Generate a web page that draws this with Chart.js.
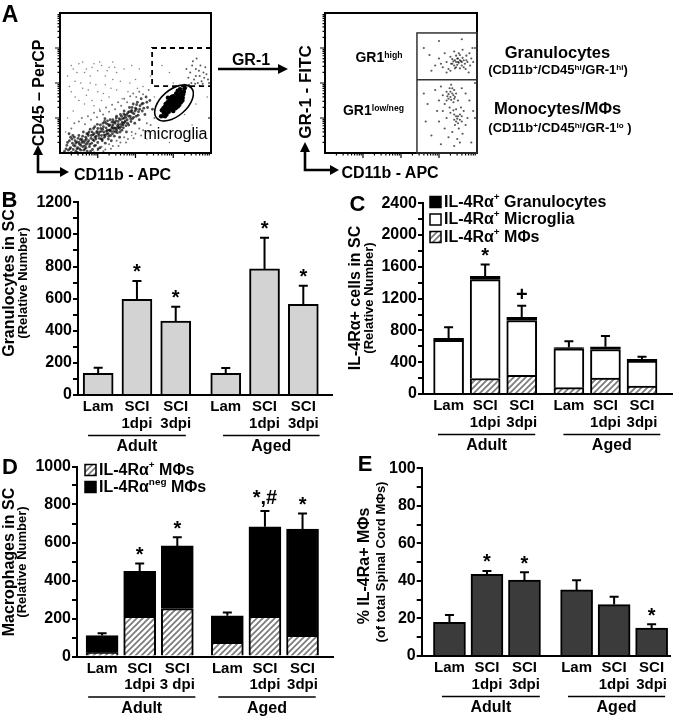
<!DOCTYPE html>
<html><head><meta charset="utf-8">
<script src="https://cdn.jsdelivr.net/npm/chart.js@4/dist/chart.umd.min.js"></script>
<style>
html,body{margin:0;padding:0;background:#fff;}
#fig{position:relative;width:673px;height:720px;overflow:hidden;font-family:'Liberation Sans',Arial,sans-serif;color:#000;}
canvas{position:absolute;}
.t{position:absolute;white-space:nowrap;font-weight:bold;line-height:1;transform:translate(-50%,-50%);}
.v{transform:translate(-50%,-50%) rotate(-90deg);}
.n{font-weight:normal;}
sup{font-size:62%;vertical-align:0;position:relative;top:-0.5em;}
</style></head><body><div id="fig">
<canvas id="sA1" width="170" height="155" style="left:50px;top:8px"></canvas>
<canvas id="sA2" width="172" height="155" style="left:315px;top:8px"></canvas>
<canvas id="cB" width="340" height="270" style="left:0;top:185px"></canvas>
<canvas id="cC" width="333" height="270" style="left:340px;top:185px"></canvas>
<canvas id="cD" width="340" height="265" style="left:0;top:455px"></canvas>
<canvas id="cE" width="333" height="265" style="left:340px;top:455px"></canvas>
<svg style="position:absolute;left:0;top:0" width="673" height="190">
 <g stroke="#000" stroke-width="2.6" fill="none">
  <polyline points="38,154 38,172 61,172"/>
  <line x1="218" y1="69" x2="279" y2="69"/>
  <polyline points="305,151 305,170 331,170"/>
 </g>
 <g fill="#000">
  <polygon points="38,145 33,155 43,155"/>
  <polygon points="69,172 60,167 60,177"/>
  <polygon points="288,69 278,64 278,74"/>
  <polygon points="305,142 300,152 310,152"/>
  <polygon points="339,170 330,165 330,175"/>
 </g>
</svg>
<div class="t" style="left:10px;top:13.5px;font-size:23px">A</div>
<div class="t v" style="left:39px;top:93px;font-size:16px">CD45 – PerCP</div>
<div class="t" style="left:122.5px;top:175px;font-size:16px">CD11b - APC</div>
<div class="t n" style="left:175.5px;top:134px;font-size:16px">microglia</div>
<div class="t" style="left:251px;top:60px;font-size:16px">GR-1</div>
<div class="t v" style="left:305px;top:92px;font-size:17px">GR-1 - FITC</div>
<div class="t" style="left:390px;top:173px;font-size:16px">CD11b - APC</div>
<div class="t" style="left:379px;top:57px;font-size:14px">GR1<sup>high</sup></div>
<div class="t" style="left:373.5px;top:110px;font-size:14px">GR1<sup>low/neg</sup></div>
<div class="t" style="left:557.5px;top:52px;font-size:16.5px">Granulocytes</div>
<div class="t" style="left:558px;top:70px;font-size:13px">(CD11b<sup>+</sup>/CD45<sup>hi</sup>/GR-1<sup>hi</sup>)</div>
<div class="t" style="left:557.5px;top:108px;font-size:16.5px">Monocytes/MΦs</div>
<div class="t" style="left:560px;top:128px;font-size:13px">(CD11b<sup>+</sup>/CD45<sup>hi</sup>/GR-1<sup>lo</sup> )</div>

<div class="t" style="left:9.5px;top:200px;font-size:22px">B</div>
<div class="t" style="left:357.5px;top:203.5px;font-size:22px">C</div>
<div class="t" style="left:10px;top:466.5px;font-size:22px">D</div>
<div class="t" style="left:365px;top:463.5px;font-size:22px">E</div>

<div class="t v" style="left:9px;top:283px;font-size:16px">Granulocytes in SC</div>
<div class="t v" style="left:22px;top:283px;font-size:13px">(Relative Number)</div>
<div class="t v" style="left:355px;top:298px;font-size:16px">IL-4Rα+ cells in SC</div>
<div class="t v" style="left:368px;top:298px;font-size:13px">(Relative Number)</div>
<div class="t v" style="left:9px;top:562px;font-size:16px">Macrophages in SC</div>
<div class="t v" style="left:21px;top:562px;font-size:13px">(Relative Number)</div>
<div class="t v" style="left:364px;top:566px;font-size:16px">% IL-4Ra+ MΦs</div>
<div class="t v" style="left:380px;top:562px;font-size:13px">(of total Spinal Cord MΦs)</div>
</div>
<script>
// ================= DATA =================
const categories = ['Lam', 'SCI 1dpi', 'SCI 3dpi', 'Lam', 'SCI 1dpi', 'SCI 3dpi'];
const tickLines  = [['Lam'], ['SCI', '1dpi'], ['SCI', '3dpi'], ['Lam'], ['SCI', '1dpi'], ['SCI', '3dpi']];
const tickLinesD = [['Lam'], ['SCI', '1dpi'], ['SCI', '3 dpi'], ['Lam'], ['SCI', '1dpi'], ['SCI', '3dpi']];
const groups = ['Adult', 'Aged'];

// Panel B – granulocytes
const granB    = [135, 595, 460, 135, 785, 565];
const granBErr = [170, 710, 550, 168, 980, 680];
const marksB   = ['', '*', '*', '', '*', '*'];
const yTicksB  = [0, 200, 400, 600, 800, 1000, 1200];

// Panel C – IL-4Rα+ cells (stacked)
const mphC     = [0, 195, 235, 80, 200, 100];
const microC   = [675, 1245, 690, 490, 360, 315];
const granC    = [25, 40, 40, 15, 35, 20];
const totCErr  = [840, 1630, 1110, 665, 730, 470];
const marksC   = ['', '*', '+', '', '', ''];
const yTicksC  = [0, 400, 800, 1200, 1600, 2000, 2400];

// Panel D – macrophages (stacked)
const posMphD  = [20, 212, 252, 74, 212, 112];
const negMphD  = [90, 236, 330, 140, 471, 558];
const totDErr  = [123, 490, 628, 231, 766, 752];
const marksD   = ['', '*', '*', '', '*,#', '*'];
const yTicksD  = [0, 200, 400, 600, 800, 1000];

// Panel E – % IL-4Ra+ MΦs
const pctE     = [18, 43.5, 40.5, 35.2, 27.4, 14.9];
const pctEErr  = [21.8, 45.3, 44.6, 40.4, 31.6, 16.9];
const marksE   = ['', '*', '*', '', '', '*'];
const yTicksE  = [0, 20, 40, 60, 80, 100];

// Panel A – flow cytometry events (decades of fluorescence)
const cd45Diag = [[0.12,0.05],[0.18,0.22],[0.22,0.08],[0.25,0.35],[0.28,0.15],[0.3,0.02],[0.33,0.28],[0.35,0.1],[0.38,0.45],[0.4,0.2],[0.42,0.05],[0.45,0.32],[0.47,0.15],[0.5,0.5],[0.52,0.25],[0.55,0.08],[0.57,0.4],[0.6,0.18],[0.62,0.6],[0.64,0.3],[0.66,0.12],[0.68,0.45],[0.7,0.25],[0.72,0.05],[0.74,0.55],[0.76,0.35],[0.78,0.18],[0.8,0.68],[0.82,0.42],[0.84,0.28],[0.86,0.1],[0.88,0.52],[0.9,0.35],[0.92,0.75],[0.94,0.22],[0.96,0.48],[0.98,0.62],[1.0,0.3],[1.02,0.55],[1.04,0.42],[1.06,0.15],[1.08,0.7],[1.1,0.5],[1.12,0.35],[1.14,0.85],[1.16,0.6],[1.18,0.45],[1.2,0.28],[1.22,0.72],[1.24,0.55],[1.26,0.92],[1.28,0.4],[1.3,0.65],[1.32,0.8],[1.34,0.5],[1.36,0.35],[1.38,0.75],[1.4,0.95],[1.42,0.62],[1.44,0.48],[1.46,0.85],[1.48,0.7],[1.5,1.05],[1.52,0.58],[1.54,0.9],[1.56,0.75],[1.58,0.45],[1.6,1.1],[1.62,0.82],[1.64,0.65],[1.66,0.98],[1.68,0.72],[1.7,1.2],[1.72,0.88],[1.74,1.02],[1.76,0.6],[1.78,0.95],[1.8,1.15],[1.82,0.8],[1.84,1.3],[1.86,1.05],[1.88,0.9],[1.9,1.22],[1.92,0.98],[1.94,1.4],[1.96,1.12],[1.98,0.85],[2.0,1.28],[2.02,1.05],[2.05,1.45],[2.08,1.18],[2.1,0.95],[2.12,1.35],[2.15,1.55],[2.18,1.2],[2.2,1.42],[2.25,1.1],[2.28,1.6],[2.32,1.3],[2.38,1.5],[2.45,1.25],[0.85,0.6],[0.95,0.4],[1.05,0.6],[1.15,0.75],[1.25,0.65],[1.35,0.62],[1.45,0.72],[1.55,0.82],[1.65,0.88],[1.75,0.78],[1.1,0.62],[1.2,0.5],[1.3,0.78],[1.4,0.8],[1.5,0.65],[1.6,0.95],[1.7,1.0],[0.9,0.55],[1.0,0.7],[1.18,0.9],[1.28,0.55],[1.38,0.88],[1.48,0.92],[1.58,0.7],[1.68,0.85],[0.6,0.35],[0.7,0.4],[0.5,0.3],[0.4,0.35],[0.75,0.5],[0.65,0.2],[0.55,0.22],[0.45,0.12],[1.12,0.4],[1.22,0.85],[1.32,0.65],[1.42,0.7],[1.52,0.78],[1.62,0.75],[1.72,1.08],[1.82,1.05],[1.92,1.15],[2.02,1.25],[1.88,1.18],[0.2,0.3],[0.26,0.12],[0.32,0.4],[0.36,0.22],[0.42,0.28],[0.48,0.42],[0.52,0.12],[0.58,0.3],[0.6,0.48],[0.63,0.08],[0.67,0.36],[0.71,0.55],[0.73,0.3],[0.77,0.6],[0.79,0.25],[0.83,0.5],[0.87,0.38],[0.89,0.7],[0.93,0.45],[0.97,0.58],[0.99,0.82],[1.03,0.5],[1.07,0.8],[1.09,0.4],[1.13,0.68],[1.17,0.52],[1.19,0.98],[1.23,0.62],[1.27,0.82],[1.29,0.48],[1.33,0.95],[1.37,0.7],[1.39,0.55],[1.43,0.88],[1.47,0.6],[1.49,1.0],[1.53,0.72],[1.57,0.98],[1.59,0.6],[1.63,1.05],[1.67,0.8],[1.69,1.12],[1.73,0.92],[1.77,1.1],[1.79,0.85],[1.83,1.18],[1.87,0.98],[1.91,1.3],[1.95,1.02],[1.99,1.2],[2.03,1.38],[2.07,1.08],[2.11,1.25],[2.17,1.4],[2.22,1.28],[2.3,1.45],[0.34,0.5],[0.46,0.02],[0.54,0.38],[0.69,0.15],[0.81,0.05],[0.91,0.2],[1.01,0.12],[0.28,0.45],[0.16,0.12],[0.24,0.55]];
const cd45DiagEdge = [[0.3,0.7],[0.38,0.85],[0.5,0.9],[0.58,1.0],[0.66,0.82],[0.74,1.05],[0.82,0.95],[0.9,1.15],[0.98,1.02],[1.06,1.2],[1.14,1.1],[1.22,1.3],[1.3,1.18],[1.38,1.38],[1.46,1.25],[1.54,1.45],[1.62,1.35],[1.7,1.55],[1.78,1.45],[1.86,1.62],[1.94,1.7],[2.02,1.6],[2.1,1.75],[2.2,1.68],[2.35,1.8],[0.9,0.02],[1.0,0.08],[1.1,0.18],[1.2,0.1],[1.3,0.25],[1.4,0.2],[1.5,0.35],[1.6,0.3],[1.7,0.45],[1.8,0.4],[1.9,0.6],[2.0,0.55],[2.1,0.7],[2.2,0.65],[2.3,0.85],[2.4,0.8],[2.5,1.0],[1.15,0.05],[1.35,0.12],[1.55,0.2],[1.75,0.3],[1.95,0.42],[2.15,0.5],[2.35,0.62]];
const cd45Microglia = [[3.02,1.43],[2.8,1.2],[2.85,1.3],[2.9,1.25],[2.9,1.38],[2.95,1.32],[2.95,1.45],[3.0,1.35],[3.0,1.5],[3.05,1.4],[3.05,1.55],[3.1,1.48],[3.1,1.6],[3.15,1.55],[3.15,1.68],[3.2,1.62],[3.22,1.72],[2.75,1.15],[2.82,1.1],[2.88,1.18],[2.98,1.25],[3.08,1.32],[3.12,1.42],[3.18,1.5],[3.25,1.58],[2.7,1.22],[2.78,1.32],[2.85,1.45],[2.92,1.52],[3.0,1.62],[3.08,1.7],[3.12,1.78],[3.28,1.75],[2.96,1.4],[3.02,1.45],[3.06,1.48],[2.94,1.35],[3.04,1.38],[2.98,1.5],[3.1,1.52],[2.88,1.3],[3.14,1.62],[2.84,1.22],[3.3,1.85],[2.68,1.05],[3.12,1.33],[2.92,1.55],[3.2,1.45],[2.86,1.58],[3.16,1.38],[2.96,1.6],[3.24,1.5],[2.8,1.4],[3.06,1.28],[3.0,1.2],[3.18,1.82],[2.78,1.05],[3.1,1.4],[2.9,1.45],[3.26,1.68],[2.74,1.28]];
const cd45Gate = [[3.45,2.3],[3.55,2.1],[3.6,2.4],[3.65,2.0],[3.7,2.2],[3.72,2.5],[3.75,2.05],[3.8,2.3],[3.82,2.15],[3.85,2.45],[3.6,2.2],[3.5,2.5],[3.4,2.15],[3.68,2.35],[3.78,1.98],[3.88,2.25],[3.52,2.62],[3.62,2.7],[3.35,2.4],[3.92,2.1],[3.58,1.98],[3.7,1.92],[3.48,2.0],[3.35,1.88],[3.42,1.95],[3.3,1.95]];
const cd45Sparse = [[0.3,2.5],[0.45,2.3],[0.6,2.6],[0.7,2.4],[0.8,2.2],[0.9,2.55],[1.0,2.35],[1.1,2.5],[1.2,2.2],[1.3,2.45],[1.4,2.6],[1.5,2.3],[0.55,2.0],[0.75,1.8],[0.95,1.95],[1.15,1.7],[0.4,1.6],[0.25,1.9],[1.35,1.85],[1.6,2.05],[1.8,1.75],[2.0,2.1],[2.2,1.9],[0.65,1.4],[0.35,1.2],[1.7,2.4],[1.9,2.5],[0.85,1.5],[1.05,1.25],[2.1,2.4],[2.4,2.2],[2.6,1.9],[2.5,1.6],[2.7,2.5],[2.9,2.3],[3.0,2.0],[2.75,0.9],[3.3,1.1],[3.5,0.8],[2.6,0.6],[3.6,1.4],[3.9,1.6],[2.3,0.4],[1.9,0.5],[2.9,0.3],[0.15,0.6],[0.2,1.0],[0.2,2.2],[0.35,2.4],[0.5,2.55],[0.65,2.3],[0.85,2.45],[1.05,2.6],[1.25,2.35],[1.45,2.45],[0.4,2.05],[0.6,1.85],[0.8,2.0],[1.0,1.75],[1.2,1.95],[1.4,2.1],[0.3,1.75],[0.5,1.5],[0.7,1.65],[0.9,1.35],[1.1,1.5],[1.3,1.6],[1.5,1.8],[1.65,1.55],[1.85,2.0],[2.05,1.85]];
const gr1High = [[2.9,2.5],[3.0,2.7],[3.1,2.45],[3.15,2.85],[3.2,2.6],[3.25,2.4],[3.3,2.75],[3.35,2.55],[3.4,2.9],[3.42,2.65],[3.45,2.45],[3.5,2.7],[3.52,2.58],[3.55,2.8],[3.6,2.5],[3.62,2.95],[3.65,2.65],[3.7,2.4],[3.72,2.78],[3.75,2.6],[3.8,2.85],[3.82,2.5],[3.85,2.7],[3.88,3.0],[3.3,2.35],[3.38,2.62],[3.48,2.52],[3.58,2.62],[3.45,2.78],[3.35,2.68],[3.55,2.42],[3.68,2.55],[3.05,2.55],[2.8,2.35],[2.75,2.8],[3.9,2.6],[3.2,2.3],[3.78,2.3],[3.4,2.5],[3.5,2.6],[3.0,3.2],[3.6,3.25],[2.6,3.0],[3.45,2.6],[3.55,2.65],[3.62,2.72],[3.42,2.42],[3.52,2.85],[3.65,2.45],[3.72,2.65],[3.32,2.55],[3.6,2.6],[3.48,2.7]];
const gr1Low = [[2.9,1.8],[3.0,1.5],[3.05,1.9],[3.1,1.65],[3.15,1.4],[3.2,1.75],[3.25,1.55],[3.28,1.85],[3.3,1.6],[3.32,1.95],[3.35,1.7],[3.38,1.45],[3.4,1.8],[3.42,1.6],[3.45,1.25],[3.5,1.5],[3.1,1.2],[3.2,1.0],[3.3,1.15],[3.4,0.95],[3.45,1.05],[3.5,0.85],[3.55,1.1],[3.6,0.9],[3.65,1.2],[3.52,0.7],[3.42,0.8],[3.58,1.3],[3.35,0.6],[3.62,0.55],[3.7,0.8],[3.25,0.45],[3.48,0.4],[3.75,1.0],[3.0,0.9],[3.15,0.7],[2.95,1.2],[3.8,1.5],[3.7,1.7],[3.6,1.85],[2.8,0.5],[2.7,1.4],[3.85,0.3],[3.05,0.25],[3.9,1.2],[3.28,1.3],[3.38,1.22],[3.48,0.98],[3.22,1.62],[3.32,1.52],[2.6,1.7],[2.65,0.9],[3.55,0.3],[3.4,0.2],[3.3,1.75],[3.25,1.68],[3.35,1.85],[3.45,1.7],[3.4,1.55],[3.5,1.05],[3.45,0.9],[3.55,0.95],[3.4,1.1],[3.6,1.05],[3.2,1.5],[3.38,1.65]];

// ================= RENDERING =================
const FONT = "'Liberation Sans', Arial, Helvetica, sans-serif";
Chart.defaults.font.family = FONT;
Chart.defaults.color = '#000';
Chart.defaults.animation = false;

function makeHatch() {
  const c = document.createElement('canvas'); c.width = 6; c.height = 6;
  const x = c.getContext('2d');
  x.fillStyle = '#fff'; x.fillRect(0, 0, 6, 6);
  x.strokeStyle = '#7a7a7a'; x.lineWidth = 1.7;
  x.beginPath();
  x.moveTo(0, 6); x.lineTo(6, 0);
  x.moveTo(-1, 1); x.lineTo(1, -1);
  x.moveTo(5, 7); x.lineTo(7, 5);
  x.stroke();
  return x.createPattern(c, 'repeat');
}
const HATCH = makeHatch();

function drawRich(ctx, x, y, segs, size) {
  let cx = x;
  ctx.textAlign = 'left'; ctx.textBaseline = 'middle';
  segs.forEach(s => {
    const sup = Array.isArray(s);
    const t = sup ? s[0] : s;
    const fs = sup ? size * 0.62 : size;
    ctx.font = 'bold ' + fs + 'px ' + FONT;
    ctx.fillText(t, cx, sup ? y - size * 0.33 : y);
    cx += ctx.measureText(t).width;
  });
}

function barPanel(o) {
  const g = o.gap;
  const xs = [0, 1, 2, g, g + 1, g + 2];
  const totals = xs.map((_, i) => o.series.reduce((a, s) => a + s.values[i], 0));
  const datasets = o.series.map(s => ({
    label: s.label,
    data: s.values.map((v, i) => ({x: xs[i], y: v})),
    backgroundColor: s.fill, borderColor: '#000', borderWidth: 2,
    borderSkipped: 'start', barThickness: o.barW
  }));
  const extras = {
    id: 'extras',
    afterDatasetsDraw(chart) {
      const {ctx, scales: {x, y}} = chart;
      ctx.save();
      ctx.strokeStyle = '#000'; ctx.fillStyle = '#000'; ctx.lineWidth = 2;
      xs.forEach((xv, i) => {
        const px = x.getPixelForValue(xv);
        const top = y.getPixelForValue(totals[i]);
        const ey = y.getPixelForValue(o.err[i]);
        ctx.beginPath();
        ctx.moveTo(px, top); ctx.lineTo(px, ey);
        ctx.moveTo(px - 4.5, ey); ctx.lineTo(px + 4.5, ey);
        ctx.stroke();
        const m = o.marks[i];
        if (m) {
          ctx.font = 'bold 20px ' + FONT; ctx.textAlign = 'center'; ctx.textBaseline = 'alphabetic';
          const mt = ctx.measureText(m);
          const cy = ey - 12.5;
          ctx.fillText(m, px, cy + (mt.actualBoundingBoxAscent - mt.actualBoundingBoxDescent) / 2);
        }
      });
      ctx.restore();
    },
    afterDraw(chart) {
      const {ctx, scales: {x, y}, chartArea} = chart;
      const ay = chartArea.bottom;
      ctx.save();
      ctx.fillStyle = '#000'; ctx.strokeStyle = '#000';
      ctx.textAlign = 'center'; ctx.textBaseline = 'middle';
      ctx.font = 'bold 15px ' + FONT;
      xs.forEach((xv, i) => {
        const px = x.getPixelForValue(xv);
        o.ticks[i].forEach((line, j) => ctx.fillText(line, px, ay + 12 + j * 16.5));
      });
      ctx.lineWidth = 1.5;
      ctx.font = 'bold 16px ' + FONT;
      o.groupLines.forEach((gl, k) => {
        const x1 = x.getPixelForValue(gl[0]), x2 = x.getPixelForValue(gl[1]);
        ctx.beginPath(); ctx.moveTo(x1, ay + 40.5); ctx.lineTo(x2, ay + 40.5); ctx.stroke();
        ctx.fillText(groups[k], (x1 + x2) / 2, ay + 52);
      });
      if (o.legend) {
        const L = o.legend;
        L.items.forEach((it, k) => {
          const bx = chartArea.left + L.dx, by = chartArea.top + L.dy + k * L.step;
          ctx.fillStyle = it.fill; ctx.fillRect(bx, by - 5.5, 11, 11);
          ctx.lineWidth = 1.5; ctx.strokeStyle = '#000'; ctx.strokeRect(bx, by - 5.5, 11, 11);
          ctx.fillStyle = '#000';
          drawRich(ctx, bx + 14, by + 0.5, it.text, 16);
        });
      }
      ctx.restore();
    }
  };
  return new Chart(document.getElementById(o.id), {
    type: 'bar',
    data: {datasets},
    options: {
      responsive: false, animation: false, events: [],
      layout: {padding: {top: o.padTop, right: o.padRight, left: 0, bottom: 0}},
      plugins: {legend: {display: false}, tooltip: {enabled: false}},
      scales: {
        x: {
          type: 'linear', min: o.xMin, max: o.xMax, stacked: true, offset: false,
          afterFit(s) { s.height = o.xH; },
          border: {display: true, color: '#000', width: 2},
          grid: {display: false, drawTicks: false},
          ticks: {display: false}
        },
        y: {
          min: 0, max: o.yMax, stacked: true,
          afterFit(s) { s.width = o.yW; },
          border: {display: true, color: '#000', width: 2},
          grid: {drawOnChartArea: false, drawTicks: true, tickLength: 5, color: '#000', lineWidth: 2},
          ticks: {
            stepSize: o.minor, autoSkip: false, padding: 1, color: '#000',
            font: {size: 16, weight: 'bold'},
            callback: v => o.yLabels.includes(v) ? String(v) : ''
          }
        }
      }
    },
    plugins: [extras]
  });
}

barPanel({
  id: 'cB', gap: 3.29, barW: 30, xMin: -0.52, xMax: 6.03, yMax: 1200, minor: 100,
  yLabels: yTicksB, yW: 78, xH: 60, padTop: 17.3, padRight: 8,
  series: [{label: 'Granulocytes', values: granB, fill: '#d3d3d3'}],
  err: granBErr, marks: marksB, ticks: tickLines,
  groupLines: [[-0.26, 2.26], [3.22, 5.71]]
});

barPanel({
  id: 'cC', gap: 3.29, barW: 30, xMin: -0.70, xMax: 6.11, yMax: 2400, minor: 200,
  yLabels: yTicksC, yW: 83, xH: 61, padTop: 18.3, padRight: 1,
  series: [
    {label: 'IL-4Rα+ MΦs', values: mphC, fill: HATCH},
    {label: 'IL-4Rα+ Microglia', values: microC, fill: '#fff'},
    {label: 'IL-4Rα+ Granulocytes', values: granC, fill: '#000'}
  ],
  err: totCErr, marks: marksC, ticks: tickLines,
  groupLines: [[-0.29, 2.37], [3.14, 5.79]],
  legend: {dx: 7, dy: -1.3, step: 17.5, items: [
    {fill: '#000', text: ['IL-4Rα', ['+'], ' Granulocytes']},
    {fill: '#fff', text: ['IL-4Rα', ['+'], ' Microglia']},
    {fill: HATCH, text: ['IL-4Rα', ['+'], ' MΦs']}
  ]}
});

barPanel({
  id: 'cD', gap: 3.33, barW: 32, xMin: -0.667, xMax: 6.14, yMax: 1000, minor: 100,
  yLabels: yTicksD, yW: 77, xH: 63.5, padTop: 11.5, padRight: 7,
  series: [
    {label: 'IL-4Rα+ MΦs', values: posMphD, fill: HATCH},
    {label: 'IL-4Rαneg MΦs', values: negMphD, fill: '#000'}
  ],
  err: totDErr, marks: marksD, ticks: tickLinesD,
  groupLines: [[-0.37, 2.48], [3.09, 5.68]],
  legend: {dx: 8, dy: 3.5, step: 17, items: [
    {fill: HATCH, text: ['IL-4Rα', ['+'], ' MΦs']},
    {fill: '#000', text: ['IL-4Rα', ['neg'], ' MΦs']}
  ]}
});

barPanel({
  id: 'cE', gap: 3.39, barW: 32, xMin: -0.74, xMax: 5.88, yMax: 100, minor: 10,
  yLabels: yTicksE, yW: 81.7, xH: 64, padTop: 13.3, padRight: 3,
  series: [{label: '% IL-4Ra+ MΦs', values: pctE, fill: '#3b3b3b'}],
  err: pctEErr, marks: marksE, ticks: tickLines,
  groupLines: [[-0.2, 2.41], [3.16, 5.75]]
});

// ---- Panel A scatter plots ----
function frameTicks(chart) {
  const {ctx, chartArea: a, scales: {x, y}} = chart;
  ctx.save();
  ctx.strokeStyle = '#000';
  ctx.lineWidth = 2;
  ctx.strokeRect(a.left, a.top, a.right - a.left, a.bottom - a.top);
  ctx.lineWidth = 1.2;
  ctx.beginPath();
  for (let d = 0; d < 4; d++) {
    for (let k = 1; k <= 9; k++) {
      const v = d + Math.log10(k);
      const len = k === 1 ? 5 : 2.5;
      if (v > 0) {
        const py = y.getPixelForValue(v);
        ctx.moveTo(a.left, py); ctx.lineTo(a.left - len, py);
        if (k === 1) { ctx.moveTo(a.right, py); ctx.lineTo(a.right - 3, py); }
        const px = x.getPixelForValue(v);
        ctx.moveTo(px, a.bottom); ctx.lineTo(px, a.bottom + len);
      }
    }
  }
  ctx.stroke();
  ctx.restore();
}

function scatterPanel(id, sets, pad, deco) {
  return new Chart(document.getElementById(id), {
    type: 'scatter',
    data: {datasets: sets.map(s => ({
      data: s.pts.map(p => ({x: p[0], y: p[1]})),
      pointRadius: s.r, backgroundColor: s.c, borderWidth: 0, pointHoverRadius: 0
    }))},
    options: {
      responsive: false, animation: false, events: [],
      layout: {padding: pad},
      plugins: {legend: {display: false}, tooltip: {enabled: false}},
      scales: {
        x: {type: 'linear', min: 0, max: 4, display: false},
        y: {type: 'linear', min: 0, max: 4, display: false}
      }
    },
    plugins: [{id: 'deco', afterDraw(chart) { frameTicks(chart); deco(chart); }}]
  });
}

scatterPanel('sA1', [
  {pts: cd45Sparse, r: 0.8, c: 'rgba(0,0,0,0.5)'},
  {pts: cd45DiagEdge, r: 1.0, c: 'rgba(0,0,0,0.55)'},
  {pts: cd45Diag, r: 1.4, c: 'rgba(0,0,0,0.7)'},
  {pts: cd45Gate, r: 1.0, c: 'rgba(0,0,0,0.65)'},
  {pts: cd45Microglia, r: 2.3, c: '#000'}
], {left: 10, top: 5, right: 9, bottom: 10}, chart => {
  const {ctx, scales: {x, y}} = chart;
  ctx.save();
  ctx.strokeStyle = '#000';
  ctx.lineWidth = 1.8; ctx.setLineDash([5, 4]);
  const gx = x.getPixelForValue(2.44), gr = x.getPixelForValue(4);
  const gt = y.getPixelForValue(3.0), gb = y.getPixelForValue(1.91);
  ctx.beginPath();
  ctx.moveTo(gr, gt); ctx.lineTo(gx, gt); ctx.lineTo(gx, gb); ctx.lineTo(gr, gb);
  ctx.stroke();
  ctx.setLineDash([]);
  ctx.lineWidth = 1.6;
  ctx.beginPath();
  ctx.ellipse(x.getPixelForValue(3.02), y.getPixelForValue(1.43), 23, 13, -41 * Math.PI / 180, 0, 2 * Math.PI);
  ctx.stroke();
  ctx.restore();
});

scatterPanel('sA2', [
  {pts: gr1High, r: 1.1, c: 'rgba(0,0,0,0.65)'},
  {pts: gr1Low, r: 1.1, c: 'rgba(0,0,0,0.65)'}
], {left: 10, top: 5, right: 10, bottom: 10}, chart => {
  const {ctx, scales: {x, y}} = chart;
  ctx.save();
  ctx.strokeStyle = '#333'; ctx.lineWidth = 1.5;
  const l = x.getPixelForValue(2.42), r = x.getPixelForValue(4);
  const t = y.getPixelForValue(3.43), b = y.getPixelForValue(0), m = y.getPixelForValue(2.09);
  ctx.strokeRect(l, t, r - l, b - t);
  ctx.beginPath(); ctx.moveTo(l, m); ctx.lineTo(r, m); ctx.stroke();
  ctx.restore();
});
</script>
</body></html>
